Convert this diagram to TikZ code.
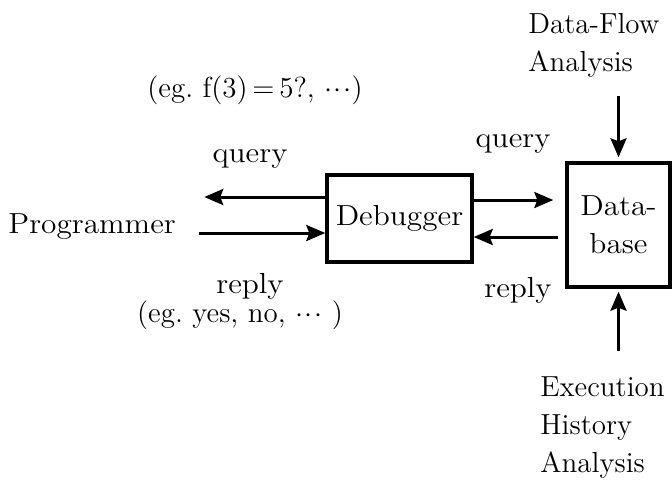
\documentclass[tikz,border=0pt]{standalone}
\usetikzlibrary{arrows.meta}
\usepackage{graphicx}
% slightly widened lettering
\newcommand{\sx}[1]{\scalebox{1.08}[1]{#1}}
\newcommand{\tdots}{$\mathord{\cdot}\mkern1mu\mathord{\cdot}\mkern1mu\mathord{\cdot}$}
\begin{document}
\begin{tikzpicture}[x=0.5pt,y=-0.5pt,
  every node/.style={font=\fontsize{14.5}{19}\selectfont},
  txt/.style={inner sep=0pt},
  box/.style={draw,line width=1.7pt,inner sep=0pt,align=center},
  arr/.style={line width=1.5pt,-{Stealth[length=9.5pt,width=8pt,inset=1.5pt]}}]
\useasboundingbox (0,0) rectangle (672,479);

% main blocks
\node[txt,anchor=base west] (prog) at (8,233) {\sx{Programmer}};
\node[box,minimum width=72.5pt,minimum height=43.5pt] (dbg) at (399.5,218.5) {\sx{Debugger}};
\node[box,minimum width=51.5pt,minimum height=62pt] (db) at (618.5,225) {\sx{Data-}\\\sx{base}};

% analysis sources
\node[txt,anchor=north west,align=left] (flow) at (528,13) {Data-Flow\\Analysis};
\node[txt,anchor=north west,align=left] (exec) at (540,376) {Execution\\History\\Analysis};

% labels
\node[txt,anchor=base] (q1) at (250,162) {\sx{query}};
\node[txt,anchor=base] (r1) at (250,293) {\sx{reply}};
\node[txt,anchor=base] (e1) at (255,97) {(eg.\ f(3)\,=\,5?,\ \tdots)};
\node[txt,anchor=base] (e2) at (240,322) {(eg.\ yes,\ no,\ \tdots\ )};
\node[txt,anchor=base] (q2) at (513,147) {\sx{query}};
\node[txt,anchor=base] (r2) at (518,297) {\sx{reply}};

% arrow levels
\coordinate (ql) at (0,197);
\coordinate (rl) at (0,233);
\coordinate (qr) at (0,200);
\coordinate (rr) at (0,237);

% programmer <-> debugger
\draw[arr,shorten >=14pt] (dbg.west |- ql) -- (prog.east |- ql);
\draw[arr,shorten <=11.5pt] (prog.east |- rl) -- (dbg.west |- rl);

% debugger <-> database
\draw[arr,shorten >=6pt] (dbg.east |- qr) -- (db.west |- qr);
\draw[arr,shorten <=3.5pt] (db.west |- rr) -- (dbg.east |- rr);

% analyses feeding the database
\draw[arr,shorten <=9pt,shorten >=2pt] (db.north |- flow.south) -- (db.north);
\draw[arr,shorten <=12.5pt,shorten >=1.5pt] (db.south |- exec.north) -- (db.south);
\end{tikzpicture}
\end{document}
